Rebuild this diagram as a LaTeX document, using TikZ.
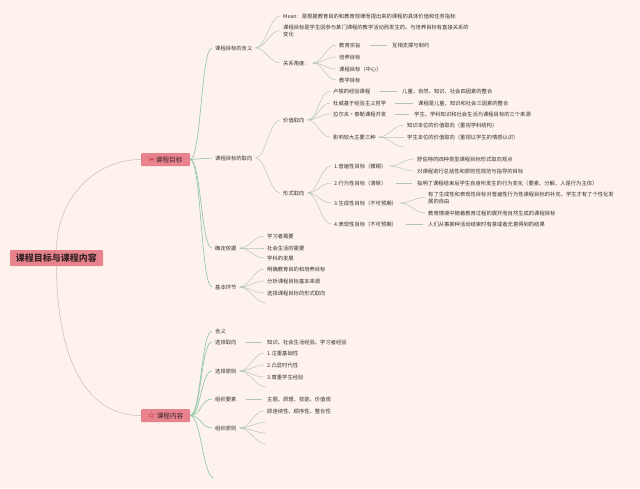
\documentclass[tikz,border=0pt]{standalone}
\usepackage{fontspec}
\newfontfamily\cjk{Noto Sans CJK SC}
\newfontfamily\sym{DejaVu Sans}
\definecolor{bg}{HTML}{FDF2EC}
\definecolor{pinkbox}{HTML}{E8838E}
\definecolor{boxtxt}{HTML}{3A2626}
\definecolor{txt}{HTML}{333333}
\definecolor{linkc}{HTML}{B0C4B6}
\definecolor{trunkc}{HTML}{8CC4A3}
\definecolor{rootc}{HTML}{C8BDB5}
\definecolor{iconc}{HTML}{B8202E}
\begin{document}
\begin{tikzpicture}[x=1pt,y=-1pt,
  leaf/.style={anchor=west, inner xsep=3pt, inner ysep=1pt, text=txt, align=left,
    font=\cjk\fontsize{5.3}{7}\selectfont},
  box/.style={fill=pinkbox, rounded corners=1pt, text=boxtxt, inner sep=0pt,
    minimum width=49pt, minimum height=13pt, font=\cjk\fontsize{6.6}{8}\selectfont},
  rootbox/.style={fill=pinkbox, rounded corners=1pt, text=boxtxt, inner sep=0pt,
    minimum width=93pt, minimum height=16pt, font=\cjk\bfseries\fontsize{9}{11}\selectfont},
  link/.style={draw=linkc, line width=0.45pt},
  trunk/.style={draw=trunkc, line width=0.6pt},
  rootlink/.style={draw=rootc, line width=0.5pt},
  straight/.style={link, shorten <=6pt, shorten >=2pt},
  fan/.style={to path={.. controls +(#1,0) and +(-#1,0) .. (\tikztotarget)}},
  fan/.default=10
]
\fill[bg] (0,0) rectangle (640,488);
\useasboundingbox (0,0) rectangle (640,488);

% main boxes
\node[rootbox] (root) at (56.5,258) {课程目标与课程内容};
\node[box] (g) at (165.5,159.5) {{\sym\fontsize{7.5}{8}\selectfont\color{iconc}✂}\,课程目标};
\node[box] (c) at (165.5,415.5) {{\sym\fontsize{9}{9}\selectfont\color{iconc}☆}\,课程内容};
\draw[rootlink] (root.north) to[out=90,in=180] (g.west);
\draw[rootlink] (root.south) to[out=-90,in=180] (c.west);

% ---------- 课程目标 ----------
\node[leaf] (g1) at (212,48) {课程目标的含义};
\node[leaf] (g2) at (212,158) {课程目标的取向};
\node[leaf] (g3) at (212,248) {确定依据};
\node[leaf] (g4) at (212,287) {基本环节};
\foreach \n in {g1,g2,g3,g4} \draw[trunk] (g.east) to[fan=11] (\n.west);

% 含义
\node[leaf] (g11) at (280,16) {Mean：是根据教育目的和教育规律而提出来的课程的具体价值和任务指标};
\node[leaf] (g12) at (280,30.5) {课程目标是学生因参与某门课程的教学活动而发生的、与培养目标有直接关系的\\变化};
\node[leaf] (g13) at (280,63) {关系角度：};
\foreach \n in {g11,g12,g13} \draw[link] (g1.east) to[fan] (\n.west);
\node[leaf] (r1) at (336,45) {教育宗旨};
\node[leaf] (r2) at (336,57) {培养目标};
\node[leaf] (r3) at (336,69) {课程目标（中心）};
\node[leaf] (r4) at (336,80) {教学目标};
\foreach \n in {r1,r2,r3,r4} \draw[link] (g13.east) to[fan] (\n.west);
\node[leaf] (r1a) at (389,45) {互相支撑与制约};
\draw[straight] (r1.east) -- (r1a.west);

% 取向
\node[leaf] (v) at (280,120) {价值取向};
\node[leaf] (f) at (280,193) {形式取向};
\foreach \n in {v,f} \draw[link] (g2.east) to[fan] (\n.west);

\node[leaf] (v1) at (330,91) {卢梭的经验课程};
\node[leaf] (v2) at (330,103) {杜威基于经验主义哲学};
\node[leaf] (v3) at (330,114) {拉尔夫·泰勒课程开发};
\node[leaf] (v4) at (330,137) {影响较大主要三种};
\foreach \n in {v1,v2,v3,v4} \draw[link] (v.east) to[fan] (\n.west);
\node[leaf] (v1a) at (399,91) {儿童、自然、知识、社会四因素的整合};
\node[leaf] (v2a) at (415,103) {课程是儿童、知识和社会三因素的整合};
\node[leaf] (v3a) at (411,114) {学生、学科知识和社会生活为课程目标的三个来源};
\draw[straight] (v1.east) -- (v1a.west);
\draw[straight] (v2.east) -- (v2a.west);
\draw[straight] (v3.east) -- (v3a.west);
\node[leaf] (v4a) at (404,125) {知识本位的价值取向（重视学科结构）};
\node[leaf] (v4b) at (404,137) {学生本位的价值取向（重视以学生的情感认识）};
\coordinate (v4c) at (404,147);
\foreach \n in {v4a,v4b} \draw[link] (v4.east) to[fan] (\n.west);
\draw[link] (v4.east) to[fan] (v4c);

\node[leaf] (f1) at (331,166) {1.普遍性目标（模糊）};
\node[leaf] (f2) at (331,183) {2.行为性目标（清晰）};
\node[leaf] (f3) at (331,203) {3.生成性目标（不可预期）};
\node[leaf] (f4) at (331,224) {4.表现性目标（不可预期）};
\foreach \n in {f1,f2,f3,f4} \draw[link] (f.east) to[fan] (\n.west);
\node[leaf] (f1a) at (414,159) {舒伯特的四种类型课程目标形式取向观点};
\node[leaf] (f1b) at (414,171) {对课程进行总括性和原则性规范与指导的目标};
\foreach \n in {f1a,f1b} \draw[link] (f1.east) to[fan] (\n.west);
\node[leaf] (f2a) at (414,183) {指明了课程结束后学生自身所发生的行为变化（要素、分解、人是行为主体）};
\draw[straight] (f2.east) -- (f2a.west);
\node[leaf] (f3a) at (425,197.5) {有了生成性和表现性目标对普遍性行为性课程目标的补充，学生才有了个性化发\\展的自由};
\node[leaf] (f3b) at (425,213) {教育情境中随着教育过程的展开而自然生成的课程目标};
\foreach \n in {f3a,f3b} \draw[link] (f3.east) to[fan] (\n.west);
\node[leaf] (f4a) at (425,224) {人们从事某种活动结束时有意或者无意得到的结果};
\draw[straight] (f4.east) -- (f4a.west);

% 确定依据
\node[leaf] (d1) at (264,236) {学习者需要};
\node[leaf] (d2) at (264,248) {社会生活的需要};
\node[leaf] (d3) at (264,258) {学科的发展};
\foreach \n in {d1,d2,d3} \draw[link] (g3.east) to[fan] (\n.west);

% 基本环节
\node[leaf] (b1) at (264,269) {明确教育目的和培养目标};
\node[leaf] (b2) at (264,281) {分析课程目标基本来源};
\node[leaf] (b3) at (264,293) {选择课程目标的形式取向};
\coordinate (b4) at (266,303);
\foreach \n in {b1,b2,b3} \draw[link] (g4.east) to[fan] (\n.west);
\draw[link] (g4.east) to[fan] (b4);

% ---------- 课程内容 ----------
\node[leaf] (c1) at (212,331) {含义};
\node[leaf] (c2) at (212,342) {选择取向};
\node[leaf] (c3) at (212,371) {选择原则};
\node[leaf] (c4) at (212,399) {组织要素};
\node[leaf] (c5) at (212,428) {组织原则};
\coordinate (c6) at (214,478);
\foreach \n in {c1,c2,c3,c4,c5} \draw[trunk] (c.east) to[fan=11] (\n.west);
\draw[trunk] (c.east) to[fan=11] (c6);

\node[leaf] (c2a) at (264,342) {知识、社会生活经验、学习者经验};
\draw[straight] (c2.east) -- (c2a.west);

\node[leaf] (s1) at (264,353) {1.注重基础性};
\node[leaf] (s2) at (264,365) {2.凸显时代性};
\node[leaf] (s3) at (264,377) {3.尊重学生经验};
\coordinate (s4) at (266,387);
\foreach \n in {s1,s2,s3} \draw[link] (c3.east) to[fan] (\n.west);
\draw[link] (c3.east) to[fan] (s4);

\node[leaf] (c4a) at (264,399) {主题、原理、技能、价值观};
\draw[straight] (c4.east) -- (c4a.west);

\node[leaf] (o1) at (264,411) {即连续性、顺序性、整合性};
\coordinate (o2) at (266,422);
\coordinate (o3) at (266,433);
\coordinate (o4) at (266,444);
\draw[link] (c5.east) to[fan] (o1.west);
\foreach \n in {o2,o3,o4} \draw[link] (c5.east) to[fan] (\n);
\end{tikzpicture}
\end{document}
